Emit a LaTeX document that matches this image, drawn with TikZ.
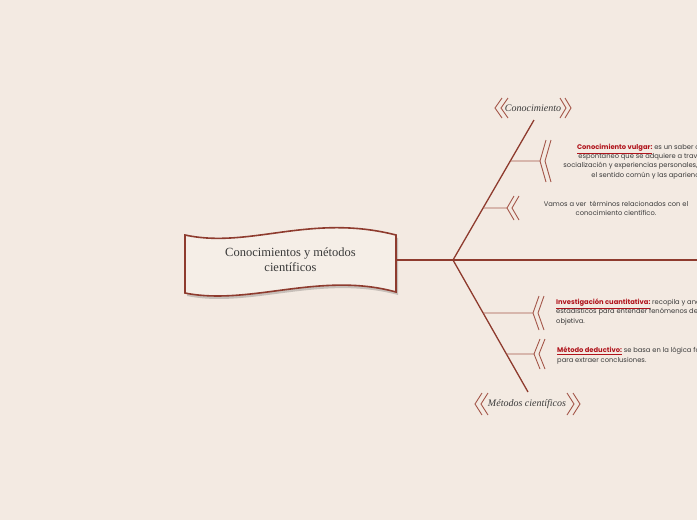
\documentclass[tikz,border=0pt]{standalone}
\usepackage{fontspec}
\setmainfont{Liberation Serif}
\newfontfamily\notefont{Poppins}
\usetikzlibrary{positioning,calc}
\definecolor{paper}{HTML}{F3EAE2}
\definecolor{boxfill}{HTML}{F5EEE7}
\definecolor{branch}{HTML}{8E3B2E}
\definecolor{twig}{HTML}{A4574A}
\definecolor{keyred}{HTML}{B0141C}
\definecolor{inktext}{HTML}{3A3A3A}

% doble chevron: punta x, punta y, media altura, ancho, separacion
\newcommand\dblchev[5]{%
  \draw[chev] (#1+#4,#2-#3) -- (#1,#2) -- (#1+#4,#2+#3);
  \draw[chev] (#1+#4+#5,#2-#3) -- (#1+#5,#2) -- (#1+#4+#5,#2+#3);
}
\newcommand\keyw[1]{\textcolor{keyred}{\bfseries\underline{#1}}}

\begin{document}
\begin{tikzpicture}[x=1pt, y=-1pt,
        trunk/.style={draw=branch, line width=1.3pt},
        twigline/.style={draw=twig, line width=0.8pt},
        chev/.style={draw=twig, line width=0.9pt},
        topicbox/.style={minimum width=211pt, minimum height=60pt, inner sep=0pt, align=center, text=inktext, font=\fontsize{12.5}{15}\selectfont},
        note/.style={font=\notefont\fontsize{6.75}{9.2}\selectfont, text=inktext, inner sep=0pt},
        tag/.style={font=\itshape\fontsize{10}{12}\selectfont, text=inktext, inner sep=1pt}
    ]
        \fill[paper] (0,0) rectangle (697,520);
        \useasboundingbox (0,0) rectangle (697,520);
        \clip (0,0) rectangle (697,520);

        % Tema central
        \fill[black, opacity=0.18] (187,238) .. controls (250,252) and (310,216) .. (398,238)
            -- (398,295) .. controls (320,274) and (250,309) .. (187,296) -- cycle;
        \filldraw[fill=boxfill, draw=branch, line width=1.6pt]
            (185,235) .. controls (250,249) and (310,213) .. (396,235)
            -- (396,292) .. controls (320,271) and (250,306) .. (185,293) -- cycle;
        \node[topicbox] (topic) at (290.5,260) {Conocimientos y métodos\\científicos};

        % Eje principal
        \coordinate (hub) at (453,260);
        \coordinate (edge) at (705,260);
        \coordinate (upTip) at (534,120);
        \coordinate (lowTip) at (528,392);
        \draw[trunk] (topic.east) -- (hub) -- (edge);
        \draw[trunk] (hub) -- (upTip);
        \draw[trunk] (hub) -- (lowTip);

        % Etiquetas
        \node[tag] (conoc) at (533,108) {Conocimiento};
        \dblchev{495}{108}{10}{7}{6}
        \dblchev{566}{108}{10}{-6}{5}
        \node[tag] (metodos) at (527,404) {Métodos científicos};
        \dblchev{475}{404}{11}{7}{6}
        \dblchev{574}{404}{11}{-7}{6}

        % Ramas superiores
        \coordinate (a0) at ($(hub)!0.707!(upTip)$);
        \coordinate (a1) at (540,161);
        \draw[twigline] (a0) -- (a1);
        \dblchev{540}{161}{21}{6}{5}
        \node[note, align=center] (vulgar) at (651,161.5)
            {\keyw{Conocimiento vulgar:} es un saber común y\\
             espontaneo que se adquiere a través de la\\
             socialización y experiencias personales, fundado en\\
             el sentido común y las apariencias.};

        \coordinate (b0) at ($(hub)!0.371!(upTip)$);
        \coordinate (b1) at (507,208);
        \draw[twigline] (b0) -- (b1);
        \dblchev{507}{208}{12}{7}{5}
        \node[note, align=center] (vamos) at (616,208.5)
            {Vamos a ver \ términos relacionados con el\\conocimiento científico.};

        % Ramas inferiores
        \coordinate (c0) at ($(hub)!0.4015!(lowTip)$);
        \coordinate (c1) at (533,313);
        \draw[twigline] (c0) -- (c1);
        \dblchev{533}{313}{17}{6}{5}
        \node[note, align=left, anchor=west] (cuanti) at (556,312)
            {\keyw{Investigación cuantitativa:} recopila y analiza datos\\
             estadisticos para entender fenómenos de forma\\
             objetiva.};

        \coordinate (d0) at ($(hub)!0.712!(lowTip)$);
        \coordinate (d1) at (534,354);
        \draw[twigline] (d0) -- (d1);
        \dblchev{534}{354}{15}{6}{5}
        \node[note, align=left, anchor=west] (deduc) at (557,355.5)
            {\keyw{Método deductivo:} se basa en la lógica formal\\
             para extraer conclusiones.};
    \end{tikzpicture}
\end{document}
